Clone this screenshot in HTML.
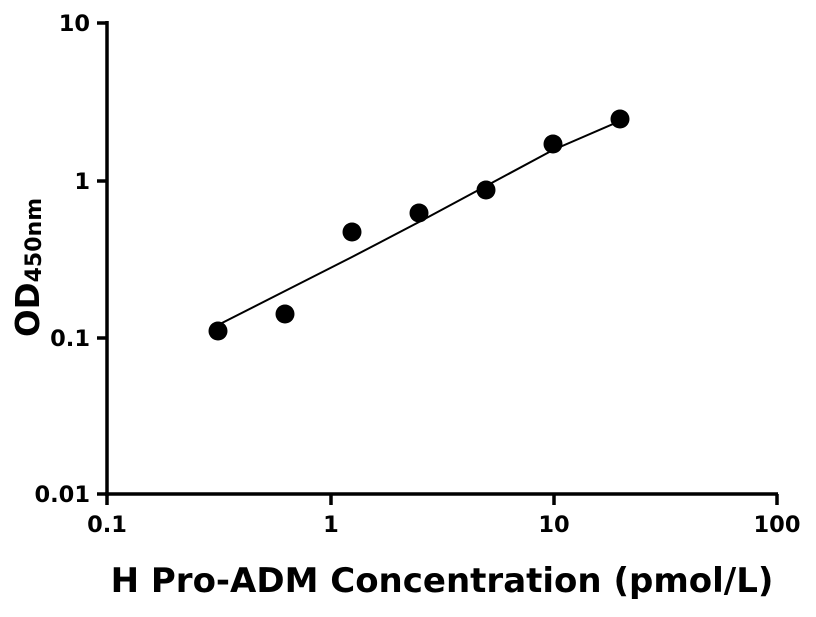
<!DOCTYPE html>
<html><head><style>body{margin:0;background:#fff}</style></head><body>
<svg width="816" height="612" xmlns="http://www.w3.org/2000/svg" font-family="'DejaVu Sans','Liberation Sans',sans-serif" font-weight="bold">
<rect width="816" height="612" fill="#fff"/>
<g stroke="#000" stroke-width="3.5" fill="none">
<line x1="107" y1="21" x2="107" y2="496"/>
<line x1="105" y1="494" x2="778" y2="494"/>
<line x1="97" y1="23" x2="107" y2="23"/>
<line x1="97" y1="181" x2="107" y2="181"/>
<line x1="97" y1="338" x2="107" y2="338"/>
<line x1="97" y1="494" x2="107" y2="494"/>
<line x1="107" y1="494" x2="107" y2="505"/>
<line x1="331" y1="494" x2="331" y2="505"/>
<line x1="554" y1="494" x2="554" y2="505"/>
<line x1="777" y1="494" x2="777" y2="505"/>
</g>
<polyline points="218,325 285,291 352,257 419,222 486,186 553,150 620,121" fill="none" stroke="#000" stroke-width="2"/>
<g fill="#000">
<circle cx="218" cy="331" r="9.5"/><circle cx="285" cy="314" r="9.5"/><circle cx="352" cy="232" r="9.5"/>
<circle cx="419" cy="213" r="9.5"/><circle cx="486" cy="190" r="9.5"/><circle cx="553" cy="144" r="9.5"/><circle cx="620" cy="119" r="9.5"/>
</g>
<g font-size="22.5" text-anchor="end">
<text x="90" y="31">10</text><text x="90" y="189">1</text><text x="90" y="346">0.1</text><text x="90" y="502">0.01</text>
</g>
<g font-size="22.5" text-anchor="middle">
<text x="107" y="532">0.1</text><text x="331" y="532">1</text><text x="554" y="532">10</text><text x="777" y="532">100</text>
</g>
<text x="442" y="592" font-size="34" text-anchor="middle">H Pro-ADM Concentration (pmol/L)</text>
<text transform="translate(39,337) rotate(-90)" font-size="32.5">OD<tspan font-size="22" dy="2">450nm</tspan></text>
</svg>
</body></html>
